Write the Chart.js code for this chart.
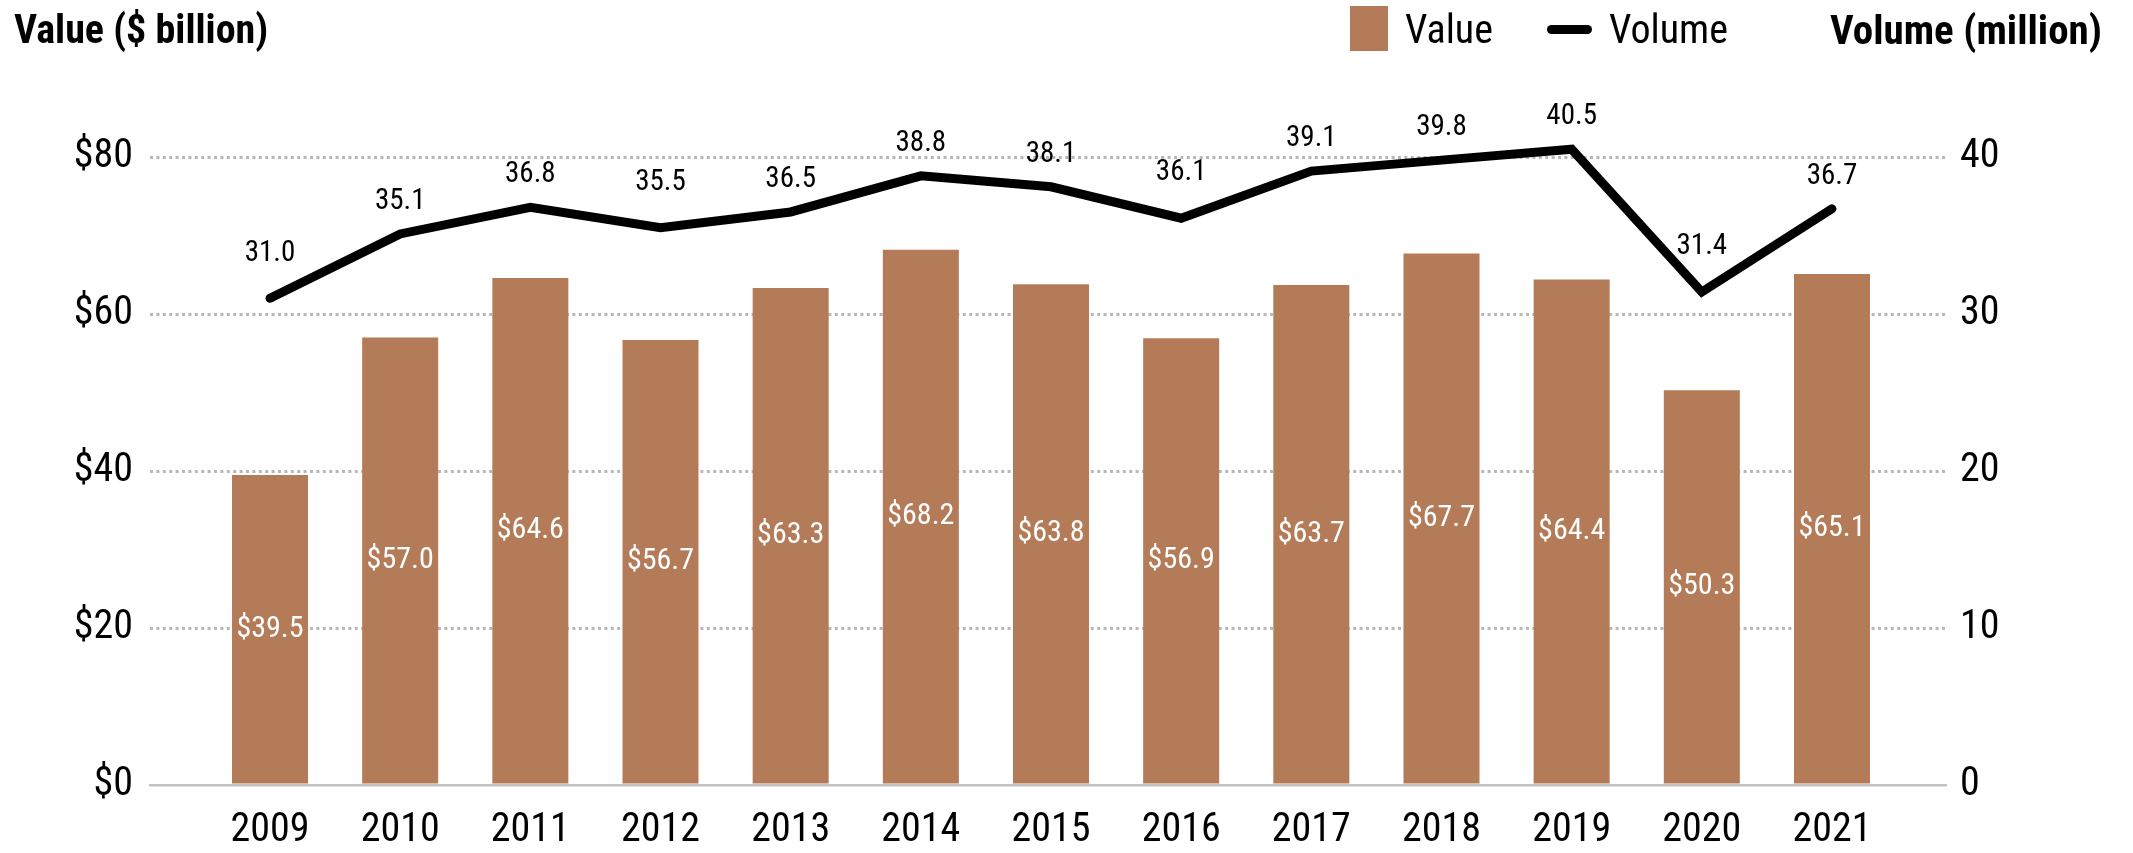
<!DOCTYPE html>
<html>
<head>
<meta charset="utf-8">
<script src="https://cdn.jsdelivr.net/npm/chart.js@4.4.1/dist/chart.umd.min.js"></script>
<style>
    body { margin: 0; background: #fff; }
    #wrap {
        position: relative; width: 2133px; height: 853px; overflow: hidden;
        font-family: "Roboto Condensed", "Liberation Sans", sans-serif;
        color: #000;
    }
    #chart { position: absolute; left: 0; top: 0; }
    .hdr { position: absolute; top: 6px; font-size: 40px; line-height: 48px; white-space: nowrap; }
    .bold { font-weight: bold; }
    #swatch { position: absolute; left: 1350px; top: 6px; width: 38px; height: 45px; background: #b47b58; }
    #lineKey { position: absolute; left: 1547px; top: 25px; width: 45px; height: 9px; border-radius: 5px; background: #000; }
</style>
</head>
<body>
<div id="wrap">
    <canvas id="chart" width="2133" height="853"></canvas>
    <div class="hdr bold" style="left:14px">Value ($ billion)</div>
    <div id="swatch"></div>
    <div class="hdr" style="left:1405px">Value</div>
    <div id="lineKey"></div>
    <div class="hdr" style="left:1609px">Volume</div>
    <div class="hdr bold" style="right:31px; font-size:41px">Volume (million)</div>
</div>
<script>
const FONT = '"Roboto Condensed", "Liberation Sans", sans-serif';

// Data
const years = [2009, 2010, 2011, 2012, 2013, 2014, 2015, 2016, 2017, 2018, 2019, 2020, 2021];
const valueData = [39.5, 57.0, 64.6, 56.7, 63.3, 68.2, 63.8, 56.9, 63.7, 67.7, 64.4, 50.3, 65.1];
const volumeData = [31.0, 35.1, 36.8, 35.5, 36.5, 38.8, 38.1, 36.1, 39.1, 39.8, 40.5, 31.4, 36.7];
const valueTicks = [0, 20, 40, 60, 80];
const volumeTicks = [0, 10, 20, 30, 40];

const BAR_COLOR = "#b47b58";

Chart.defaults.font.family = FONT;
Chart.defaults.color = "#000";

// Value labels inside the bars, volume labels above the line
const labelPlugin = {
    id: "pointLabels",
    afterDatasetsDraw(chart) {
        const ctx = chart.ctx;
        ctx.save();
        ctx.textAlign = "center";
        ctx.textBaseline = "middle";

        const bars = chart.getDatasetMeta(0).data;
        ctx.fillStyle = "#fff";
        ctx.font = `30px ${FONT}`;
        bars.forEach((bar, i) => {
            const midY = (bar.y + bar.base) / 2;
            ctx.fillText("$" + valueData[i].toFixed(1), bar.x, midY);
        });

        const points = chart.getDatasetMeta(1).data;
        ctx.fillStyle = "#000";
        ctx.font = `29px ${FONT}`;
        points.forEach((pt, i) => {
            const prev = i > 0 ? volumeData[i - 1] : Infinity;
            const next = i < volumeData.length - 1 ? volumeData[i + 1] : Infinity;
            // dips get their label lifted a bit more, clear of the line
            const isDip = volumeData[i] < prev && volumeData[i] < next;
            const offset = isDip ? 45 : 32;
            ctx.fillText(volumeData[i].toFixed(1), pt.x, pt.y - offset);
        });
        ctx.restore();
    }
};

new Chart(document.getElementById("chart"), {
    type: "bar",
    data: {
        datasets: [{
            type: "bar",
            label: "Value",
            data: years.map((y, i) => ({ x: y, y: valueData[i] })),
            backgroundColor: BAR_COLOR,
            yAxisID: "y",
            barPercentage: 1,
            categoryPercentage: 0.584,
            order: 2
        }, {
            type: "line",
            label: "Volume",
            data: years.map((y, i) => ({ x: y, y: volumeData[i] })),
            borderColor: "#000",
            borderWidth: 9,
            borderCapStyle: "round",
            borderJoinStyle: "miter",
            pointRadius: 0,
            tension: 0,
            clip: false,
            yAxisID: "y1",
            order: 1
        }]
    },
    options: {
        responsive: false,
        animation: false,
        layout: { padding: { top: 157, left: 0, right: 0, bottom: 0 } },
        plugins: {
            legend: { display: false },
            tooltip: { enabled: false }
        },
        scales: {
            x: {
                type: "linear",
                min: 2008.078,
                max: 2021.876,
                offset: false,
                afterBuildTicks: s => { s.ticks = years.map(v => ({ value: v })); },
                afterFit: s => { s.height = 68; },
                ticks: {
                    font: { size: 40 },
                    padding: 22,
                    callback: v => String(v)
                },
                grid: { display: false, drawTicks: false },
                border: { display: true, color: "#c2c2c2", width: 2.5 }
            },
            y: {
                position: "left",
                min: 0,
                max: 80,
                afterBuildTicks: s => { s.ticks = valueTicks.map(v => ({ value: v })); },
                afterFit: s => { s.width = 150; },
                ticks: {
                    font: { size: 40 },
                    padding: 17,
                    callback: v => "$" + v
                },
                grid: {
                    color: ctx => ctx.tick && ctx.tick.value === 0 ? "rgba(0,0,0,0)" : "#b8b8b8",
                    lineWidth: 3,
                    drawTicks: false
                },
                border: { display: false, dash: [3, 3.4] }
            },
            y1: {
                position: "right",
                min: 0,
                max: 40,
                afterBuildTicks: s => { s.ticks = volumeTicks.map(v => ({ value: v })); },
                afterFit: s => { s.width = 187; },
                ticks: {
                    font: { size: 40 },
                    padding: 14,
                    callback: v => String(v)
                },
                grid: { display: false, drawTicks: false },
                border: { display: false }
            }
        }
    },
    plugins: [labelPlugin]
});
</script>
</body>
</html>
